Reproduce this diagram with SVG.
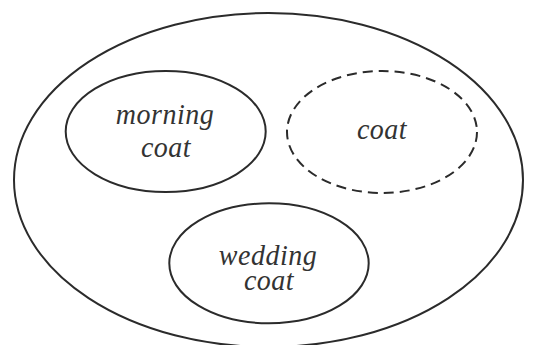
<svg xmlns="http://www.w3.org/2000/svg" width="533" height="345" viewBox="0 0 533 345">
  <style>
    .ring { fill: none; stroke: #2b2b2b; stroke-width: 2; }
    .dash { stroke-dasharray: 10 6; }
    .lbl { font-family: "Liberation Serif", "Times New Roman", serif; font-style: italic; font-size: 28px; letter-spacing: 0.5px; fill: #333; text-anchor: middle; }
  </style>
  <rect width="533" height="345" fill="#fff"/>
  <g id="outer">
    <ellipse class="ring" cx="268.5" cy="180" rx="254.5" ry="167"/>
  </g>
  <!-- labels: italic serif, stretched a little vertically -->
  <g id="morning-coat">
    <ellipse class="ring" cx="165.7" cy="131.5" rx="100" ry="60.5"/>
    <text class="lbl" transform="translate(165 123.5) scale(1 1.08)">morning</text>
    <text class="lbl" transform="translate(166 157) scale(1 1.08)">coat</text>
  </g>
  <g id="coat">
    <ellipse class="ring dash" cx="382" cy="132" rx="95" ry="61"/>
    <text class="lbl" transform="translate(382 139) scale(1 1.08)">coat</text>
  </g>
  <g id="wedding-coat">
    <ellipse class="ring" cx="269" cy="263.3" rx="99.7" ry="60"/>
    <text class="lbl" transform="translate(268 264.5) scale(1 1.08)">wedding</text>
    <text class="lbl" transform="translate(269 289.5) scale(1 1.08)">coat</text>
  </g>
  <g id="connectors"/>
</svg>
